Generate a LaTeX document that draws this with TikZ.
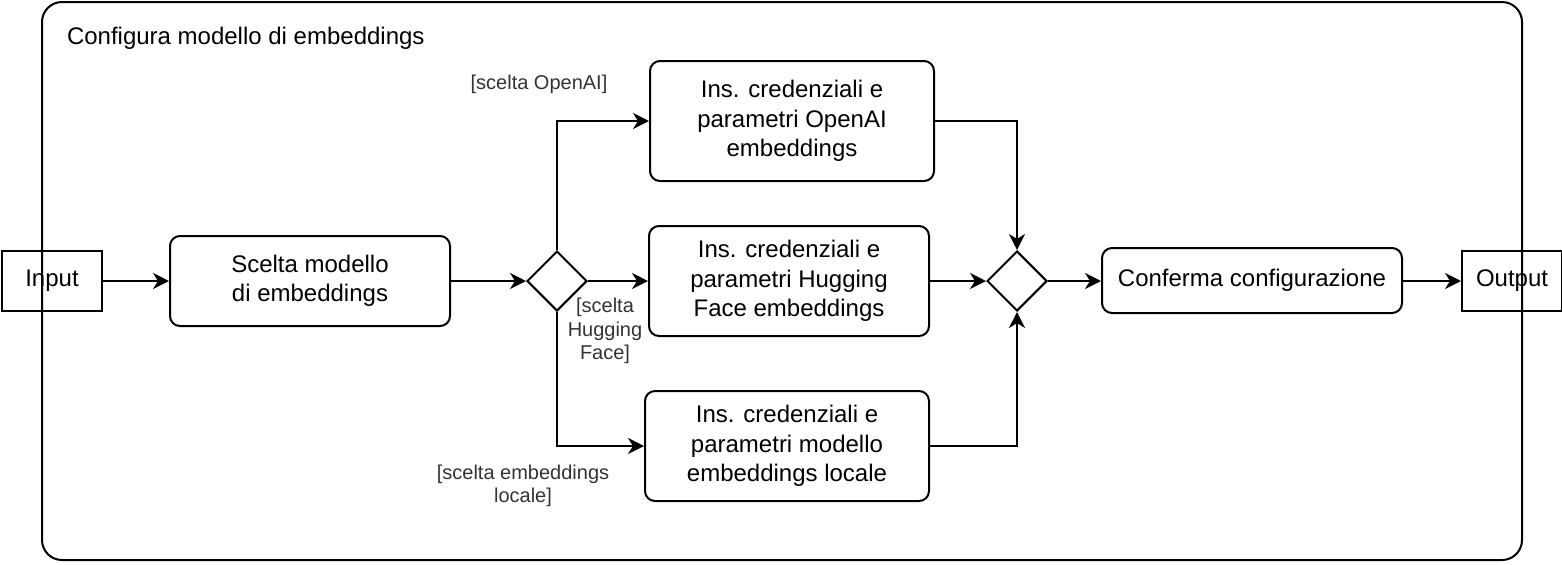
\documentclass[tikz,border=0pt]{standalone}
\usepackage{fontspec}
\setmainfont{Liberation Sans}
\usepackage{xcolor}
\usetikzlibrary{shapes.geometric,arrows.meta,positioning}

\definecolor{guardgray}{HTML}{333333}

\begin{document}
\begin{tikzpicture}[x=0.5pt, y=-0.5pt, line width=1pt,
    >={Stealth[length=8pt,width=8pt,inset=2.5pt]},
    box/.style={draw, rounded corners=5pt, align=center, inner sep=0pt,
        font=\fontsize{12pt}{14.7pt}\selectfont},
    term/.style={draw, align=center, minimum width=50pt, minimum height=30pt,
        inner sep=0pt, font=\fontsize{12pt}{14.7pt}\selectfont},
    gate/.style={draw, diamond, minimum width=30pt, minimum height=30pt, inner sep=0pt},
    guard/.style={align=center, text=guardgray, inner sep=0pt,
        font=\fontsize{10pt}{11.8pt}\selectfont}]
    \useasboundingbox (0,0) rectangle (1562,564);

    % Container
    \draw[rounded corners=10pt] (42,2) rectangle (1522,560);
    \node[anchor=west, inner sep=0pt, font=\fontsize{12pt}{14.7pt}\selectfont] (title) at (66,38) {Configura modello di embeddings};

    % Entry and exit
    \node[term] (input) at (52,281) {Input};
    \node[term] (output) at (1512,281) {Output};

    % Choice of model
    \node[box, minimum width=140pt, minimum height=45pt] (scelta) at (310,281) {Scelta modello\\di embeddings};
    \node[gate] (choice) at (557,281) {};

    % The three branches
    \node[box, minimum width=142pt, minimum height=60pt] (openai) at (792,121) {Ins. credenziali e\\parametri OpenAI\\embeddings};
    \node[box, minimum width=140pt, minimum height=55pt] (hface) at (789,281) {Ins. credenziali e\\parametri Hugging\\Face embeddings};
    \node[box, minimum width=142pt, minimum height=55pt] (locale) at (787,446) {Ins. credenziali e\\parametri modello\\embeddings locale};

    % Merge and confirmation
    \node[gate] (merge) at (1017,281) {};
    \node[box, minimum width=150pt, minimum height=32.5pt] (conferma) at (1252,280.5) {Conferma configurazione};

    % Guards
    \node[guard] (gopenai) at (539,84) {[scelta OpenAI]};
    \node[guard] (ghface) at (605,331) {[scelta\\Hugging\\Face]};
    \node[guard] (glocale) at (523,486) {[scelta embeddings\\locale]};

    % Flow
    \draw[->] (input) -- (scelta);
    \draw[->] (scelta) -- (choice);
    \draw[->] (choice.north) |- (openai.west);
    \draw[->] (choice) -- (hface);
    \draw[->] (choice.south) |- (locale.west);
    \draw[->] (openai.east) -| (merge.north);
    \draw[->] (hface) -- (merge);
    \draw[->] (locale.east) -| (merge.south);
    \draw[->] (merge) -- (conferma.west |- merge);
    \draw[->] (conferma.east |- output) -- (output);
\end{tikzpicture}
\end{document}
